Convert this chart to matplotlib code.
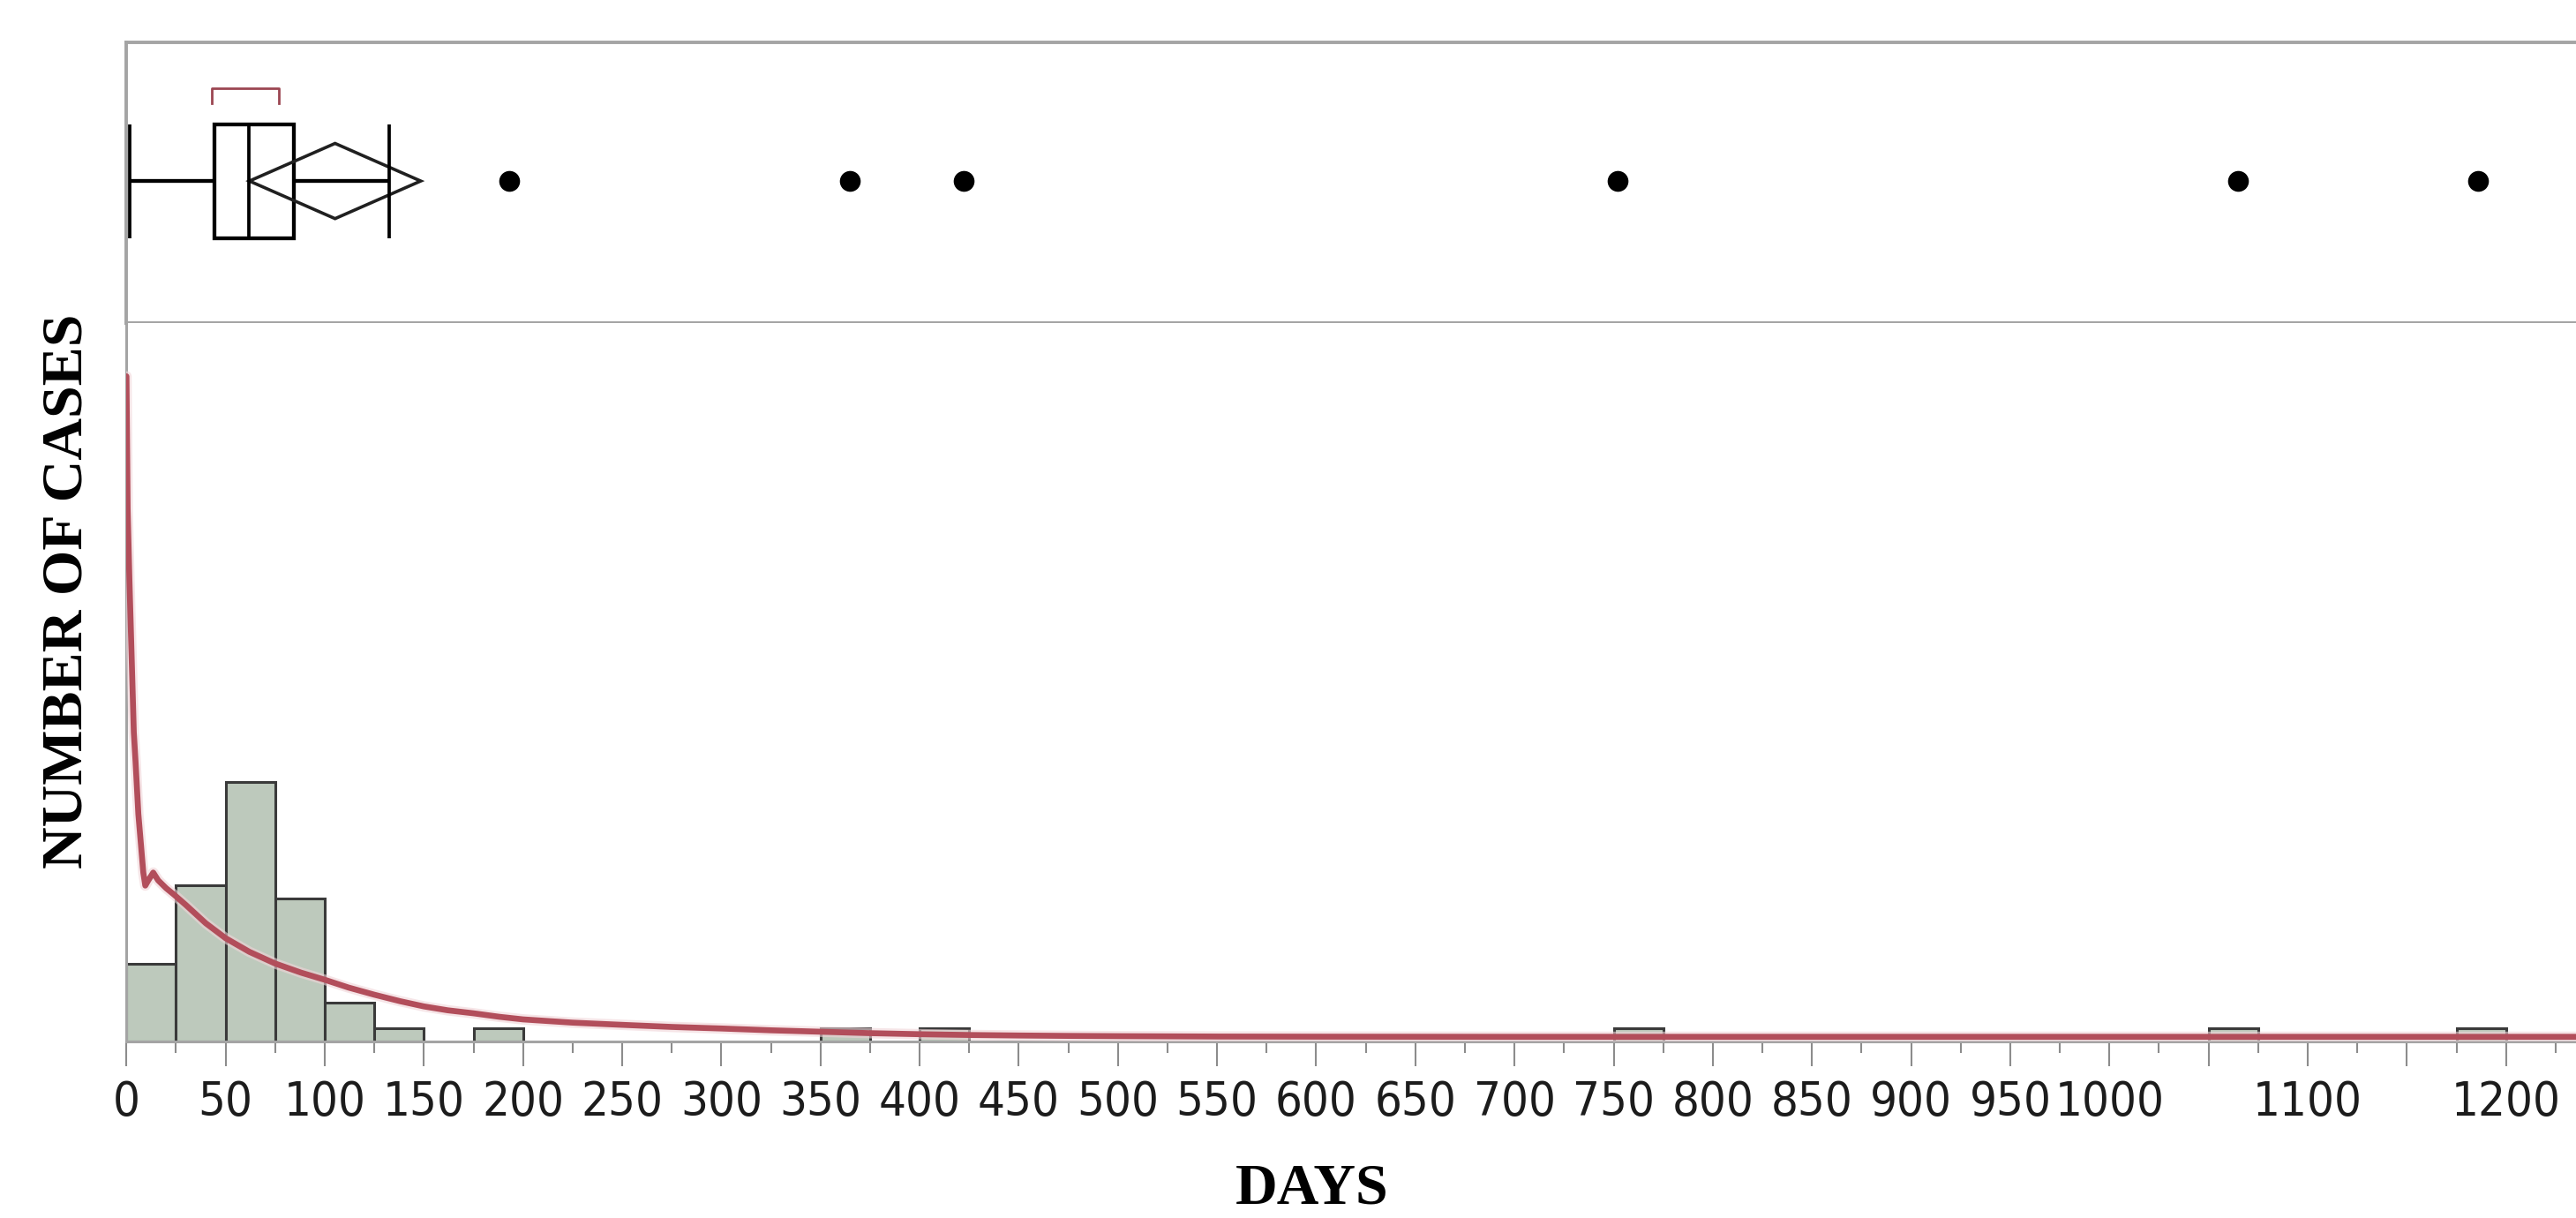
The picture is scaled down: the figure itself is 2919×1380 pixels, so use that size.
import matplotlib
matplotlib.use("Agg")
import matplotlib.pyplot as plt
from matplotlib import font_manager
from matplotlib.patches import Polygon, Rectangle
from matplotlib.ticker import MultipleLocator, FixedLocator, FixedFormatter

# ---------------- data ----------------
bin_lefts = [0, 25, 50, 75, 100, 125, 175, 350, 400, 750, 1050, 1175]
bin_counts = [6, 12, 20, 11, 3, 1, 1, 1, 1, 1, 1, 1]
bin_width = 25

curve_days = [0, 0.6, 1.5, 2.5, 3.7, 4.6, 6, 7.5, 8.5, 9.5, 11, 13.5, 16, 20,
              24, 30, 40, 50, 62, 75, 88, 100, 112, 125, 138, 150, 162, 175,
              188, 200, 225, 250, 275, 300, 325, 350, 375, 400, 425, 450, 475,
              500, 550, 600, 700, 800, 900, 1000, 1100, 1240]
curve_counts = [51.2, 41.0, 35.5, 30.2, 23.8, 21.5, 17.5, 14.8, 13.0, 12.0, 12.4,
                13.0, 12.4, 11.8, 11.3, 10.5, 9.1, 7.95, 6.9, 6.0, 5.3, 4.75,
                4.15, 3.6, 3.1, 2.7, 2.4, 2.17, 1.9, 1.7, 1.45, 1.28, 1.12, 1.0,
                0.86, 0.75, 0.64, 0.56, 0.5, 0.46, 0.43, 0.41, 0.38, 0.37, 0.36,
                0.36, 0.36, 0.36, 0.36, 0.36]

whisker_low, q1, median, q3, whisker_high = 1.5, 44.4, 61.7, 84.4, 132.5
mean_value = 105.2
mean_ci = [62.0, 148.4]
shortest_half = [42.9, 76.9]
outliers = [193, 365, 422, 752, 1065, 1186]

major_ticks = list(range(0, 1251, 50))
labelled_ticks = list(range(0, 1001, 50)) + [1100, 1200]

# ---------------- pick a narrow sans font for tick labels if one exists ----
names = {f.name for f in font_manager.fontManager.ttflist}
cond_dejavu = any(f.name == "DejaVu Sans" and str(f.stretch) in ("condensed", "semi-condensed")
                  for f in font_manager.fontManager.ttflist)
if "Liberation Sans Narrow" in names:
    tick_family, tick_stretch, tick_size = "Liberation Sans Narrow", "normal", 41
elif cond_dejavu:
    tick_family, tick_stretch, tick_size = "DejaVu Sans", "condensed", 39
else:
    tick_family, tick_stretch, tick_size = "Liberation Sans", "normal", 36

# ---------------- layout ----------------
W, H = 2919, 1380
fig = plt.figure(figsize=(W / 100, H / 100), dpi=100)
fig.patch.set_facecolor("white")


def px_rect(left, top, right, bottom):
    return [left / W, 1 - bottom / H, (right - left) / W, (bottom - top) / H]


x0_px = 143.3
px_per_day = 2.247
xmax = (W - x0_px) / px_per_day

ax_box = fig.add_axes(px_rect(x0_px, 48, W, 366))
ax_hist = fig.add_axes(px_rect(x0_px, 366, W, 1180))

frame_col = "#a4a4a4"

# ---------------- box plot panel ----------------
ax_box.set_xlim(0, xmax)
ax_box.set_ylim(0, 1)
yc, bh, dh = 0.506, 0.203, 0.134
lw_box = 3.1
ax_box.plot([whisker_low, q1], [yc, yc], color="black", lw=lw_box, solid_capstyle="butt")
ax_box.plot([q3, whisker_high], [yc, yc], color="black", lw=lw_box, solid_capstyle="butt")
for xv in (whisker_low, whisker_high):
    ax_box.plot([xv, xv], [yc - bh, yc + bh], color="black", lw=lw_box - 0.4,
                solid_capstyle="butt")
ax_box.add_patch(Rectangle((q1, yc - bh), q3 - q1, 2 * bh, fill=False,
                           edgecolor="black", lw=lw_box))
ax_box.plot([median, median], [yc - bh, yc + bh], color="black", lw=lw_box - 0.4)
ax_box.add_patch(Polygon([(mean_ci[0], yc), (mean_value, yc + dh),
                          (mean_ci[1], yc), (mean_value, yc - dh)],
                         closed=True, fill=False, edgecolor="#202020", lw=2.6))
ax_box.plot([shortest_half[0], shortest_half[0], shortest_half[1], shortest_half[1]],
            [0.783, 0.836, 0.836, 0.783], color="#9c4652", lw=2.0)
ax_box.plot(outliers, [yc] * len(outliers), "o", color="black", ms=17,
            markeredgewidth=0)

ax_box.set_xticks([])
ax_box.set_yticks([])
for side in ("top", "left", "bottom"):
    ax_box.spines[side].set_color(frame_col)
    ax_box.spines[side].set_linewidth(2.8)
ax_box.spines["right"].set_visible(False)

# ---------------- histogram panel ----------------
ax_hist.set_xlim(0, xmax)
ax_hist.set_ylim(0, 55.3)
ax_hist.bar(bin_lefts, bin_counts, width=bin_width, align="edge",
            color="#bdc9bc", edgecolor="#3a3a3a", linewidth=2.2, zorder=2)
ax_hist.plot(curve_days, curve_counts, color="#f0d4d8", lw=8.5, zorder=3,
             solid_capstyle="round", alpha=0.6)
ax_hist.plot(curve_days, curve_counts, color="#b24e5b", lw=4.8, zorder=4,
             solid_capstyle="round")

ax_hist.xaxis.set_major_locator(FixedLocator(major_ticks))
ax_hist.xaxis.set_major_formatter(FixedFormatter(
    [str(t) if t in labelled_ticks else "" for t in major_ticks]))
ax_hist.xaxis.set_minor_locator(MultipleLocator(25))
ax_hist.tick_params(axis="x", which="major", length=20, width=1.5,
                    color="#8c8c8c", pad=11, labelsize=tick_size,
                    labelcolor="#1c1c1c")
ax_hist.tick_params(axis="x", which="minor", length=9.5, width=1.5,
                    color="#8c8c8c")
for lab in ax_hist.get_xticklabels():
    lab.set_family(tick_family)
    lab.set_fontstretch(tick_stretch)
ax_hist.set_yticks([])
ax_hist.spines["top"].set_visible(False)
ax_hist.spines["right"].set_visible(False)
for side in ("left", "bottom"):
    ax_hist.spines[side].set_color(frame_col)
    ax_hist.spines[side].set_linewidth(2.2)

# ---------------- axis titles ----------------
fig.text(1487 / W, 17 / H, "DAYS", ha="center", va="baseline",
         family=["Liberation Serif", "DejaVu Serif"], fontweight="bold",
         fontsize=47.5, color="black")
fig.text(77 / W, 1 - 670 / H, "NUMBER OF CASES", ha="center", va="center",
         rotation=90, family=["Liberation Serif", "DejaVu Serif"],
         fontweight="bold", fontsize=47.5, color="black")

fig.savefig("out.png", dpi=100, facecolor="white")
